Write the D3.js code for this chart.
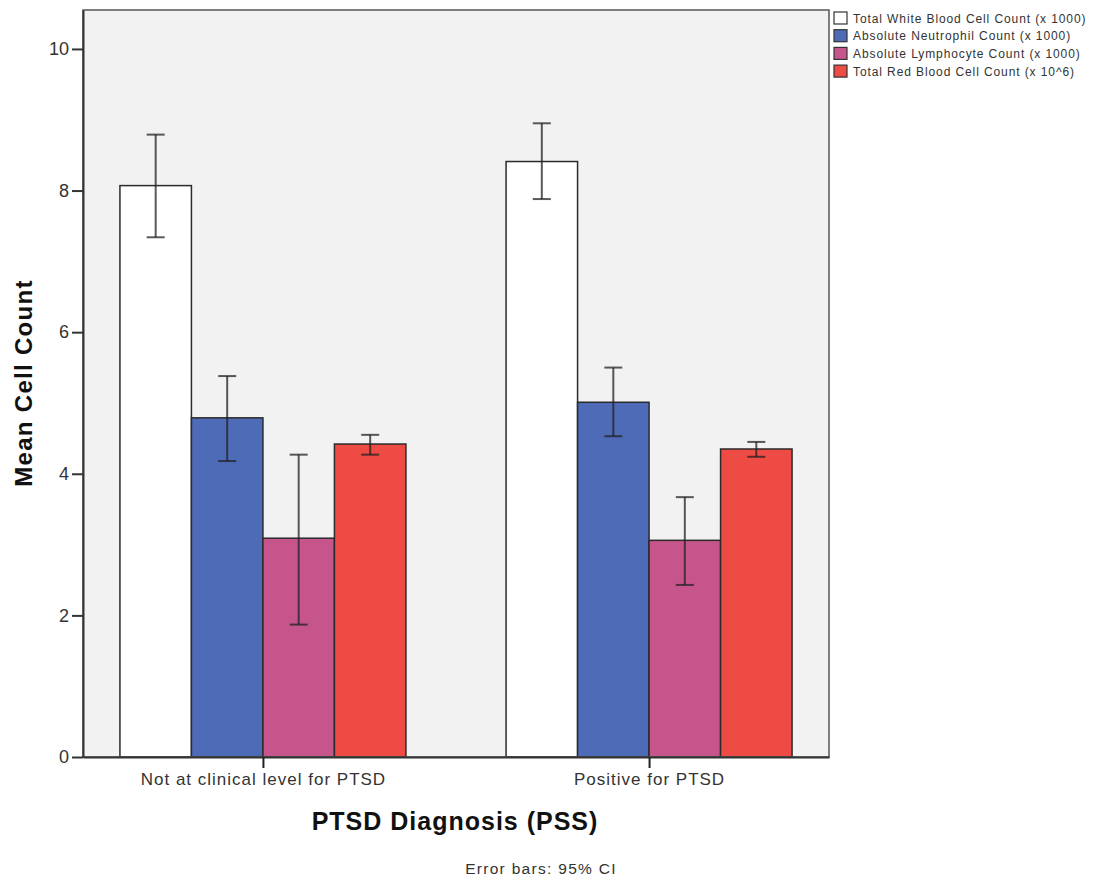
<!DOCTYPE html>
<html lang="en">
<head>
  <meta charset="UTF-8">
  <title>Mean Cell Count by PTSD Diagnosis</title>
  <script src="https://d3js.org/d3.v7.min.js"></script>
  <style>
    body {
      margin: 0;
      padding: 0;
      background: #fff;
      font-family: "Liberation Sans", Arial, sans-serif;
    }
    .tick text { fill: #333; }
  </style>
</head>
<body>
  <script>
    // categories on the x axis
    var groups = ["Not at clinical level for PTSD", "Positive for PTSD"];
    // one entry per bar series
    var series = [
      "Total White Blood Cell Count (x 1000)",
      "Absolute Neutrophil Count (x 1000)",
      "Absolute Lymphocyte Count (x 1000)",
      "Total Red Blood Cell Count (x 10^6)"
    ];
    var colors = ["#ffffff", "#4e6bb8", "#c6558c", "#ef4b45"];
    // means, per series, one value for each group
    var means = [
      [8.07, 8.41],
      [4.79, 5.01],
      [3.09, 3.06],
      [4.42, 4.35]
    ];
    // 95% CI lower / upper
    var ciLow = [
      [7.34, 7.88],
      [4.18, 4.53],
      [1.87, 2.43],
      [4.27, 4.24]
    ];
    var ciHigh = [
      [8.79, 8.95],
      [5.38, 5.50],
      [4.27, 3.67],
      [4.55, 4.45]
    ];
    var yTicks = [0, 2, 4, 6, 8, 10];

    var W = 1094, H = 882;
    var margin = { top: 10, right: 265, bottom: 125, left: 83 };
    var width = W - margin.left - margin.right;
    var height = H - margin.top - margin.bottom;

    var svg = d3.select("body").append("svg")
        .attr("width", W)
        .attr("height", H);

    var g = svg.append("g")
        .attr("transform", "translate(" + margin.left + "," + margin.top + ")");

    var y = d3.scaleLinear()
        .domain([0, 10.55])
        .range([height, 0]);

    var x = d3.scalePoint()
        .domain(groups)
        .range([0, width])
        .padding(0.466);

    var inner = d3.scaleBand()
        .domain(series)
        .range([-143, 143])
        .padding(0);

    // plot background
    g.append("rect")
        .attr("width", width)
        .attr("height", height)
        .attr("fill", "#f2f2f2");

    // bars
    var rows = [];
    series.forEach(function(s, i) {
      groups.forEach(function(gr, j) {
        rows.push({ s: s, i: i, g: gr, v: means[i][j], lo: ciLow[i][j], hi: ciHigh[i][j] });
      });
    });

    g.append("g").selectAll("rect")
      .data(rows)
      .enter().append("rect")
        .attr("x", function(d) { return x(d.g) + inner(d.s); })
        .attr("y", function(d) { return y(d.v); })
        .attr("width", inner.bandwidth())
        .attr("height", function(d) { return y(0) - y(d.v); })
        .attr("fill", function(d) { return colors[d.i]; })
        .attr("stroke", "#2b2b2b")
        .attr("stroke-width", 1.5);

    // error bars
    var eb = g.append("g")
        .attr("stroke", "#222")
        .attr("stroke-opacity", 0.75)
        .attr("stroke-width", 2)
      .selectAll("g")
      .data(rows)
      .enter().append("g")
        .attr("transform", function(d) {
          return "translate(" + (x(d.g) + inner(d.s) + inner.bandwidth() / 2) + ",0)";
        });

    eb.append("line")
        .attr("y1", function(d) { return y(d.lo); })
        .attr("y2", function(d) { return y(d.hi); });
    eb.append("line")
        .attr("x1", -9).attr("x2", 9)
        .attr("y1", function(d) { return y(d.lo); })
        .attr("y2", function(d) { return y(d.lo); });
    eb.append("line")
        .attr("x1", -9).attr("x2", 9)
        .attr("y1", function(d) { return y(d.hi); })
        .attr("y2", function(d) { return y(d.hi); });

    // frame
    g.append("rect")
        .attr("width", width)
        .attr("height", height)
        .attr("fill", "none")
        .attr("stroke", "#555")
        .attr("stroke-width", 1.5);

    // y axis
    var yAxis = g.append("g")
        .call(d3.axisLeft(y).tickValues(yTicks).tickSize(11).tickSizeOuter(0).tickPadding(3));
    yAxis.select(".domain").attr("stroke", "#333").attr("stroke-width", 2);
    yAxis.selectAll(".tick line").attr("stroke", "#333").attr("stroke-width", 2);
    yAxis.selectAll(".tick text")
        .style("font-family", "Liberation Sans, Arial, sans-serif")
        .style("font-size", "18px");

    // x axis
    var xAxis = g.append("g")
        .attr("transform", "translate(0," + height + ")")
        .call(d3.axisBottom(x).tickSize(11).tickSizeOuter(0).tickPadding(5));
    xAxis.select(".domain").attr("stroke", "#333").attr("stroke-width", 2);
    xAxis.selectAll(".tick line").attr("stroke", "#222").attr("stroke-width", 2);
    xAxis.selectAll(".tick text")
        .style("font-family", "Liberation Sans, Arial, sans-serif")
        .style("font-size", "17px")
        .style("letter-spacing", "1px");

    // axis titles
    svg.append("text")
        .attr("transform", "translate(32,383) rotate(-90)")
        .attr("text-anchor", "middle")
        .style("font-weight", "bold")
        .style("font-size", "24px")
        .style("letter-spacing", "1.3px")
        .attr("fill", "#111")
        .text("Mean Cell Count");

    svg.append("text")
        .attr("x", 455)
        .attr("y", 830)
        .attr("text-anchor", "middle")
        .style("font-weight", "bold")
        .style("font-size", "25px")
        .style("letter-spacing", "1px")
        .attr("fill", "#111")
        .text("PTSD Diagnosis (PSS)");

    svg.append("text")
        .attr("x", 541)
        .attr("y", 874)
        .attr("text-anchor", "middle")
        .style("font-size", "15.5px")
        .style("letter-spacing", "1.3px")
        .attr("fill", "#333")
        .text("Error bars: 95% CI");

    // legend
    var legend = svg.append("g")
        .attr("transform", "translate(834,12)")
      .selectAll("g")
      .data(series)
      .enter().append("g")
        .attr("transform", function(d, i) { return "translate(0," + (i * 17.7) + ")"; });

    legend.append("rect")
        .attr("width", 13)
        .attr("height", 12)
        .attr("fill", function(d, i) { return colors[i]; })
        .attr("stroke", "#333")
        .attr("stroke-width", 1.2);

    legend.append("text")
        .attr("x", 19)
        .attr("y", 10.5)
        .style("font-size", "12px")
        .style("letter-spacing", "0.9px")
        .attr("fill", "#333")
        .text(function(d) { return d; });
  </script>
</body>
</html>
